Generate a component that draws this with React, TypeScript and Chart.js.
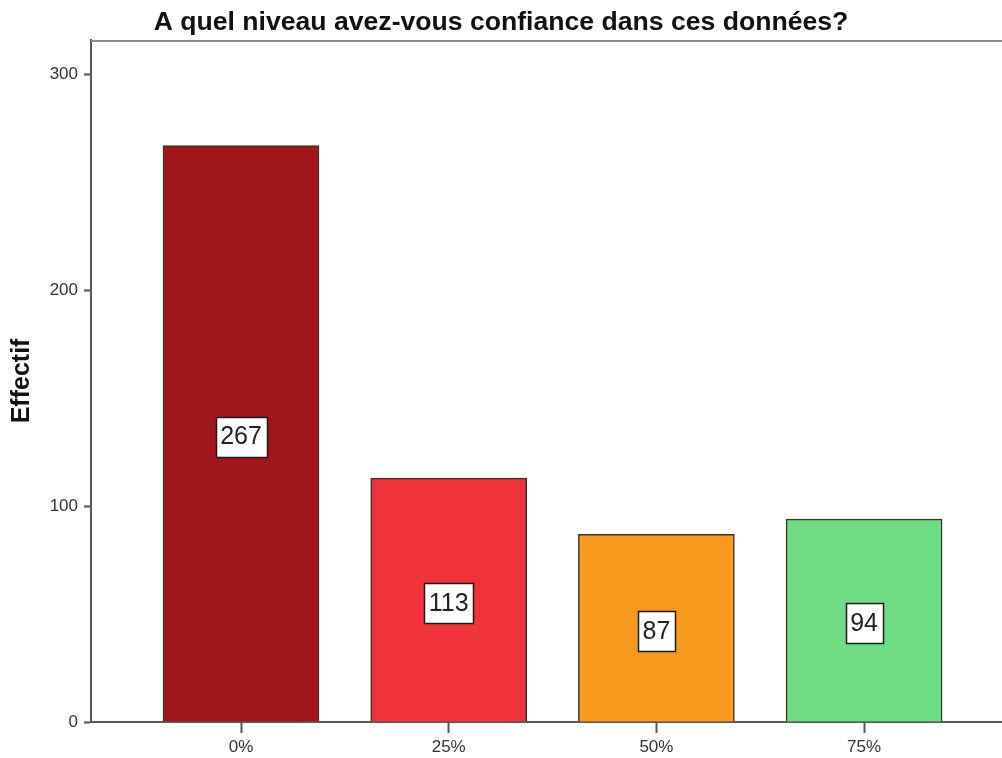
import React, { useEffect, useRef } from "react";
import { Chart, registerables } from "chart.js";

Chart.register(...registerables);

const categories = ["0%", "25%", "50%", "75%"];
const counts = [267, 113, 87, 94];
const barColors = ["#A1161A", "#F0323A", "#F89A1E", "#6FDC84"];
const yTicks = [0, 100, 200, 300];
const titleText = "A quel niveau avez-vous confiance dans ces données?";
const yTitle = "Effectif";

const FONT = "'Liberation Sans', Arial, sans-serif";

const frameLines = {
  id: "frameLines",
  afterDraw(chart: any) {
    const { ctx, chartArea } = chart;
    ctx.save();
    ctx.strokeStyle = "#8a8a8a";
    ctx.lineWidth = 2;
    ctx.beginPath();
    ctx.moveTo(chartArea.left, chartArea.top + 1);
    ctx.lineTo(chartArea.right, chartArea.top + 1);
    ctx.stroke();
    ctx.restore();
  },
};

const valueBoxes = {
  id: "valueBoxes",
  afterDatasetsDraw(chart: any) {
    const { ctx } = chart;
    const meta = chart.getDatasetMeta(0);
    const data = chart.data.datasets[0].data as any[];
    ctx.save();
    ctx.font = `25px ${FONT}`;
    ctx.textAlign = "center";
    ctx.textBaseline = "middle";
    meta.data.forEach((bar: any, i: number) => {
      const v = data[i].y;
      const text = String(v);
      const cx = bar.x;
      const cy = (bar.y + bar.base) / 2 + 3;
      const w = ctx.measureText(text).width + 9;
      const h = 40;
      ctx.fillStyle = "#ffffff";
      ctx.fillRect(Math.round(cx - w / 2) + 0.5, Math.round(cy - h / 2) + 0.5, Math.round(w), h);
      ctx.strokeStyle = "#1a1a1a";
      ctx.lineWidth = 1.5;
      ctx.strokeRect(Math.round(cx - w / 2) + 0.5, Math.round(cy - h / 2) + 0.5, Math.round(w), h);
      ctx.fillStyle = "#222222";
      ctx.fillText(text, cx, cy + 1);
    });
    ctx.restore();
  },
};

export default function App() {
  const ref = useRef<HTMLCanvasElement | null>(null);

  useEffect(() => {
    if (!ref.current) return;
    const chart = new Chart(ref.current, {
      type: "bar",
      data: {
        datasets: [
          {
            data: counts.map((v, i) => ({ x: i, y: v })),
            backgroundColor: barColors,
            borderColor: "#333333",
            borderWidth: 1.5,
            barThickness: 156,
          },
        ],
      },
      options: {
        animation: false,
        responsive: false,
        layout: { padding: 0 },
        plugins: {
          legend: { display: false },
          tooltip: { enabled: false },
          title: {
            display: true,
            text: titleText,
            color: "#111111",
            font: { family: FONT, size: 26.6, weight: "bold", lineHeight: 1.2 },
            padding: { top: 7, bottom: 1 },
          },
        },
        scales: {
          x: {
            type: "linear",
            offset: false,
            min: -0.7223,
            max: 3.664,
            afterBuildTicks(scale: any) {
              scale.ticks = categories.map((_, i) => ({ value: i }));
            },
            afterFit(scale: any) {
              scale.height = 36;
            },
            ticks: {
              callback: (v: any) => categories[v as number] ?? "",
              color: "#333333",
              font: { family: FONT, size: 17 },
              padding: 4,
              maxRotation: 0,
              autoSkip: false,
            },
            grid: {
              display: true,
              drawOnChartArea: false,
              tickLength: 11,
              tickColor: "#555555",
              tickWidth: 2,
              offset: false,
            },
            border: { display: true, color: "#5a5a5a", width: 2 },
          },
          y: {
            type: "linear",
            min: 0,
            max: 316,
            afterBuildTicks(scale: any) {
              scale.ticks = yTicks.map((v) => ({ value: v }));
            },
            afterFit(scale: any) {
              scale.width = 91;
            },
            ticks: {
              color: "#333333",
              font: { family: FONT, size: 17 },
              padding: 6,
            },
            grid: {
              display: true,
              drawOnChartArea: false,
              tickLength: 7,
              tickColor: "#555555",
              tickWidth: 2,
            },
            border: { display: true, color: "#5a5a5a", width: 2 },
            title: {
              display: true,
              text: yTitle,
              color: "#111111",
              font: { family: FONT, size: 25, weight: "bold", lineHeight: 1.2 },
              padding: { top: 7, bottom: 0 },
            },
          },
        },
      },
      plugins: [frameLines, valueBoxes],
    });
    return () => chart.destroy();
  }, []);

  return (
    <div style={{ position: "absolute", left: 0, top: 0, width: 1002, height: 758, background: "#ffffff" }}>
      <canvas ref={ref} width={1002} height={758} style={{ display: "block" }} />
    </div>
  );
}
